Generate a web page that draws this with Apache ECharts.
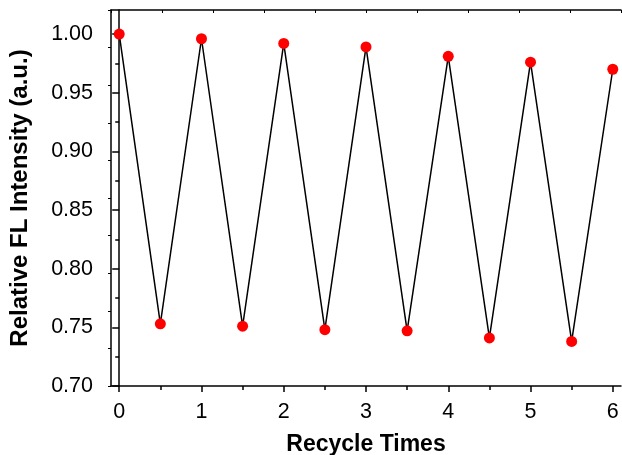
<!DOCTYPE html>
<html>
<head>
<meta charset="utf-8">
<script src="https://cdn.jsdelivr.net/npm/echarts@6/dist/echarts.min.js"></script>
<style>html,body{margin:0;padding:0;background:#fff}#c{width:622px;height:455px}</style>
</head>
<body>
<div id="c"></div>
<script>
var xValues = [0, 0.5, 1, 1.5, 2, 2.5, 3, 3.5, 4, 4.5, 5, 5.5, 6];
var intensity = [1.000, 0.753, 0.996, 0.751, 0.992, 0.748, 0.989, 0.747, 0.981, 0.741, 0.976, 0.738, 0.970];
var xMajorTicks = [0, 1, 2, 3, 4, 5, 6];
var xMinorTicks = [0.5, 1.5, 2.5, 3.5, 4.5, 5.5];
var yMajorTicks = [0.70, 0.75, 0.80, 0.85, 0.90, 0.95, 1.00];
var yMinorTicks = [0.725, 0.775, 0.825, 0.875, 0.925, 0.975];

var points = xValues.map(function (x, i) { return [x, intensity[i]]; });
var FONT = 'Liberation Sans, Arial, sans-serif';
var lineStyle = { color: '#000', width: 1.5 };

var chart = echarts.init(document.getElementById('c'));
chart.setOption({
  animation: false,
  grid: { left: 111, right: 1, top: 10, bottom: 69, containLabel: false, outerBoundsMode: 'none' },
  xAxis: [
    {
      type: 'value', min: -0.1, max: 6.1, position: 'bottom',
      name: 'Recycle Times', nameLocation: 'middle', nameGap: 47,
      nameTextStyle: { fontFamily: FONT, fontSize: 23, fontWeight: 'bold', color: '#000' },
      axisLine: { show: true, lineStyle: lineStyle },
      axisTick: { show: true, inside: false, length: 6, lineStyle: lineStyle, customValues: xMajorTicks },
      axisLabel: { show: true, customValues: xMajorTicks, margin: 15, fontFamily: FONT, fontSize: 21.5, color: '#000' },
      splitLine: { show: false }
    },
    {
      type: 'value', min: -0.1, max: 6.1, position: 'bottom',
      axisLine: { show: false },
      axisTick: { show: true, inside: false, length: 4, lineStyle: lineStyle, customValues: xMinorTicks },
      axisLabel: { show: false },
      splitLine: { show: false }
    },
    {
      type: 'value', min: 0, max: 10, interval: 1, position: 'top',
      axisLine: { show: true, lineStyle: lineStyle },
      axisTick: { show: true, inside: true, length: 3, lineStyle: { color: '#000', width: 1 } },
      axisLabel: { show: false },
      splitLine: { show: false }
    }
  ],
  yAxis: [
    {
      type: 'value', min: 0.70, max: 1.0205, position: 'left',
      name: 'Relative FL Intensity (a.u.)', nameLocation: 'middle', nameGap: 79,
      nameTextStyle: { fontFamily: FONT, fontSize: 24, fontWeight: 'bold', color: '#000' },
      axisLine: { show: true, lineStyle: lineStyle },
      axisTick: { show: true, inside: false, length: 7, lineStyle: lineStyle, customValues: yMajorTicks },
      axisLabel: {
        show: true, customValues: yMajorTicks, margin: 18, fontFamily: FONT, fontSize: 21.5, color: '#000',
        formatter: function (v) { return v.toFixed(2); }
      },
      splitLine: { show: false }
    },
    {
      type: 'value', min: 0.70, max: 1.0205, position: 'left',
      axisLine: { show: false },
      axisTick: { show: true, inside: false, length: 4, lineStyle: lineStyle, customValues: yMinorTicks },
      axisLabel: { show: false },
      splitLine: { show: false }
    },
    {
      type: 'value', min: 0, max: 10, interval: 1, position: 'right',
      axisLine: { show: true, lineStyle: lineStyle },
      axisTick: { show: true, inside: true, length: 3, lineStyle: { color: '#000', width: 1 } },
      axisLabel: { show: false },
      splitLine: { show: false }
    }
  ],
  series: [{
    type: 'line',
    xAxisIndex: 0, yAxisIndex: 0,
    data: points,
    symbol: 'circle', symbolSize: 11,
    itemStyle: { color: '#ff0000', borderWidth: 0 },
    lineStyle: { color: '#000', width: 1.5 },
    z: 3
  }]
});
</script>
</body>
</html>
